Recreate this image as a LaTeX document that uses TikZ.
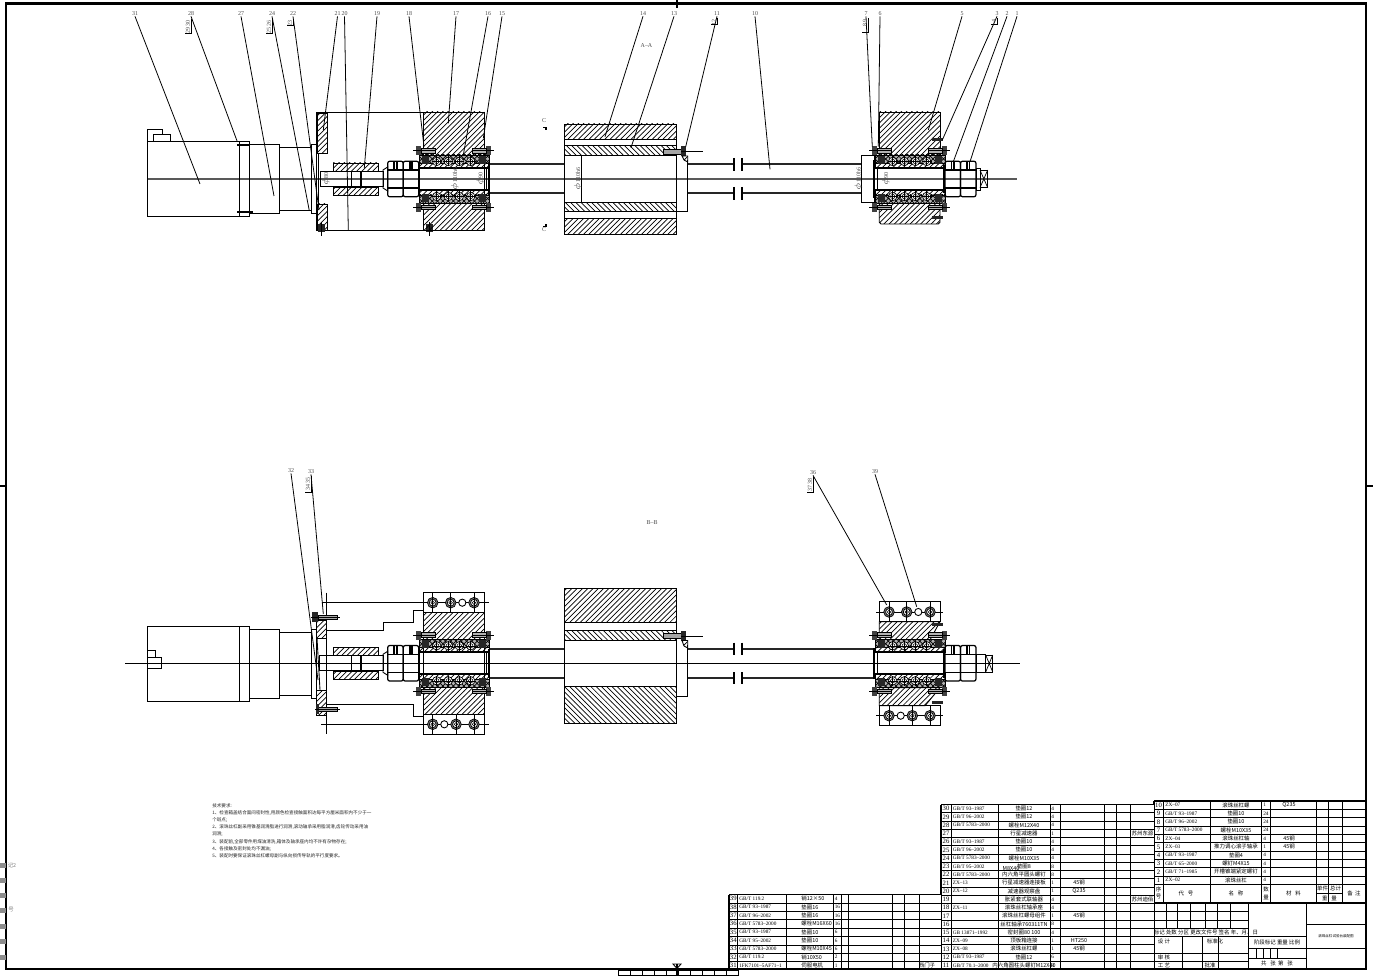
\documentclass[tikz,border=0pt]{standalone}
\usepackage{fontspec}
\usetikzlibrary{patterns}
\usetikzlibrary{positioning}
\newfontfamily\cjk{Noto Sans CJK SC}
\newfontfamily\lib{Liberation Serif}
\newcommand{\gbt}{GB/T}

\tikzset{
  part/.style = {draw,line width=0.5pt},
  hatchr/.style = {draw,line width=0.5pt,pattern=north east lines},
  hatchl/.style = {draw,line width=0.5pt,pattern=north west lines},
  hatchd/.style = {draw,line width=0.5pt,pattern=crosshatch},
  leader/.style = {line width=0.45pt},
  grid/.style = {line width=0.45pt},
  heavy/.style = {line width=1.1pt},
  screwline/.style = {line width=1.1pt,black!85},
  partno/.style = {inner sep=0pt,font=\lib\fontsize{3.4}{3.4}\selectfont,black!70},
  codetxt/.style = {inner sep=0pt,font=\lib\fontsize{3}{3}\selectfont},
  cjktxt/.style = {inner sep=0pt,font=\cjk\fontsize{3.1}{3.1}\selectfont},
  notetxt/.style = {inner sep=0pt,anchor=west,font=\cjk\fontsize{2.6}{2.6}\selectfont,black!85}
}

% bearing with its four bolts, x0 = left end, cy = axis
\newcommand{\bearingset}[2]{
  \begin{scope}[shift={(#1,#2)}]
    \foreach \s in {-1,1} {
      \draw[hatchd] (0,\s*24) rectangle (70,\s*16);
      \fill[black!30] (0,\s*24) rectangle (70,\s*16);
      \draw[hatchd] (0,\s*24) rectangle (70,\s*16);
      \draw[hatchr] (0,\s*16) rectangle (70,\s*11);
      \fill[black!85] (3,\s*23) rectangle (10,\s*15);
      \fill[black!85] (60,\s*23) rectangle (67,\s*15);
      \foreach \bx in {17.7,29.3,40.3,51.7} {
        \draw[line width=0.4pt,fill=white] (\bx,\s*17.5) circle (4.2);
        \draw[line width=0.3pt] (\bx-5,\s*17.5) -- (\bx+5,\s*17.5) (\bx,\s*12.5) -- (\bx,\s*22.5);
        \draw[line width=0.3pt] (\bx,\s*17.5) circle (2.2);
      }
      \draw[heavy] (-1,\s*11) -- (71,\s*11);
      % bolts
      \fill[black!75] (-3,\s*28.3-4.5) rectangle (2,\s*28.3+4.5);
      \fill[black!75] (67,\s*28.3-4.5) rectangle (72,\s*28.3+4.5);
      \draw[part,fill=black!30] (2,\s*28.3-2.3) rectangle (16,\s*28.3+2.3);
      \draw[part,fill=black!30] (53,\s*28.3-2.3) rectangle (67,\s*28.3+2.3);
      \draw[line width=0.4pt] (-6,\s*28.3) -- (16,\s*28.3) (53,\s*28.3) -- (75,\s*28.3);
    }
  \end{scope}
}
% two nuts side by side
\newcommand{\nutpair}[2]{
  \begin{scope}[shift={(#1,#2)}]
    \foreach \nx in {0,15.5} {
      \draw[line width=0.7pt,rounded corners=1.2pt] (\nx,-17.8) rectangle (\nx+15.5,17.8);
      \draw[line width=0.6pt] (\nx,-9) -- (\nx+15.5,-9) (\nx,9) -- (\nx+15.5,9);
      \draw[line width=1.1pt] (\nx+6.5,-17.8) -- (\nx+6.5,-9) (\nx+9,-17.8) -- (\nx+9,-9);
    }
  \end{scope}
}
% coupling and shaft stub on the motor side
\newcommand{\couplingset}[2]{
  \begin{scope}[shift={(0,#2)}]
    \draw[part] (#1,-7.5) rectangle (383,7.5);
    \draw[hatchr] (333,-16) rectangle (378,-8);
    \draw[hatchr] (333,8) rectangle (378,16);
    \draw[part] (351,-8) -- (351,8);
    \draw[heavy] (360.7,-8) -- (360.7,8);
    \draw[part] (383,-9) -- (387.7,-12) -- (387.7,12) -- (383,9) -- cycle;
  \end{scope}
}
% circles with cross lines of the clamp bolts
\newcommand{\clampbolt}[2]{
  \draw[line width=0.4pt,fill=black!55] (#1,#2) circle (5.3);
  \draw[line width=0.4pt,fill=white] (#1,#2) circle (3.4);
  \draw[line width=0.3pt] (#1,#2) circle (1.8);
  \draw[line width=0.4pt] (#1,#2-10) -- (#1,#2+10);
}
\newcommand{\labelstack}[4]{
  \node[partno,rotate=90,anchor=east] at (#1-3,#2+1) {#3};
  \draw[leader] (#1,#2) -- (#1,#2+#4) -- (#1-6,#2+#4);
}

\begin{document}
\begin{tikzpicture}[x=0.02cm,y=-0.02cm]
  \useasboundingbox (0,0) rectangle (1373,976);
  \fill[white] (0,0) rectangle (1373,976);

  % frame and centring marks
  \draw[line width=1.2pt] (6,3.5) rectangle (1366,969);
  \draw[line width=0.6pt] (677,0) -- (677,8) (0,486) -- (6,486) (1366,486) -- (1373,486) (677,964) -- (677,976);
  \draw[line width=0.5pt] (673,964) -- (681,964) -- (677,968.5) -- cycle;
  \foreach \rx in {618,630,642,654,666,678,690,702,714,726} {
    \draw[grid] (\rx,970) rectangle (\rx+11.9,975);
  }
  \foreach \sy in {865,880,895,910,926,941,957} {
    \fill[black!45] (0,\sy-2.5) rectangle (5.5,\sy+2.5);
  }
  \node[cjktxt,black!50] (sidea) at (12,865) {记2};
  \node[cjktxt,black!50] (sideb) at (11,910) {号};

  %%% upper view
  \draw[line width=0.8pt,black!65] (147,179) -- (1017,179);
  % motor
  \draw[part] (147,141) rectangle (239.3,216.7);
  \draw[part] (239.3,141) rectangle (249.3,216.7);
  \draw[part] (147,141) -- (147,129.3) -- (162.7,129.3) -- (162.7,134.3) -- (170.7,134.3) -- (170.7,141);
  \draw[part] (153.3,134.3) -- (162.7,134.3) (153.3,134.3) -- (153.3,141);
  \draw[part] (249.3,144.3) rectangle (279,213.3);
  \draw[part] (279,147) rectangle (311,210.7);
  \draw[part] (311,144.3) rectangle (316.7,213.3);
  \draw[heavy] (237,145.3) -- (250,145.3) (237,212) -- (253,212);
  % housing
  \draw[part] (316.7,112) rectangle (484,230);
  \draw[hatchr] (317.3,113) rectangle (327,153);
  \draw[hatchr] (317.3,204) rectangle (327,230);
  \fill[black!85] (318,224) rectangle (325,232);
  \fill[black!85] (426,224) rectangle (433,232);
  \draw[line width=0.4pt] (321.5,222) -- (321.5,236) (429.5,222) -- (429.5,236);
  \draw[part] (318,153) -- (318,204);
  \couplingset{320}{179}
  \nutpair{387.7}{179}
  \draw[hatchr] (423.3,112) rectangle (484,155);
  \draw[hatchr] (423.3,203) rectangle (484,230);
  \bearingset{419}{179}
  \draw[part] (419,168) -- (419,190);
  \draw[heavy] (489.3,164.3) -- (489.3,193.7);
  \draw[part] (486,168) -- (486,190);
  % lead screw
  \draw[screwline] (490,164.3) -- (564.3,164.3) (490,193) -- (564.3,193);
  \draw[screwline] (687.7,164.3) -- (734,164.3) (742,164.3) -- (861.7,164.3);
  \draw[screwline] (687.7,193) -- (734,193) (742,193) -- (861.7,193);
  \draw[heavy] (734,158) -- (734,170.7) (742,158) -- (742,170.7) (734,187) -- (734,200) (742,187) -- (742,200);
  % travelling nut
  \draw[hatchr] (564.3,124) rectangle (676.7,139.3);
  \draw[hatchl] (564.3,145.7) rectangle (676.7,155.7);
  \draw[hatchl] (564.3,202.3) rectangle (676.7,211.7);
  \draw[hatchr] (564.3,218.3) rectangle (676.7,234);
  \draw[part] (564.3,139.3) -- (564.3,145.7) (676.7,139.3) -- (676.7,145.7);
  \draw[part] (564.3,211.7) -- (564.3,218.3) (676.7,211.7) -- (676.7,218.3);
  \draw[part] (564.3,155.7) -- (564.3,202.3) (581,155.7) -- (581,202.3) (676.7,155.7) -- (676.7,211.7);
  \draw[part] (676.7,211.7) -- (687.7,211.7) -- (687.7,160);
  \draw[part,fill=black!35] (663,149) rectangle (681,154);
  \fill[black!85] (681,146) rectangle (686,156);
  \draw[line width=0.4pt] (681,151.5) -- (703,151.5);
  \draw[hatchr] (682,156) -- (687.7,156) -- (687.7,162) -- (684,160) -- cycle;
  % right bearing
  \draw[hatchr] (879.3,112) rectangle (940,155);
  \draw[hatchr,rounded corners=1pt] (879.3,203) -- (879.3,224) -- (940,224) -- (940,203) -- cycle;
  \draw[part] (861.7,155) -- (874.3,155) -- (874.3,202) -- (861.7,202) -- cycle;
  \bearingset{875}{179}
  \draw[heavy] (874.3,160) -- (874.3,198) (944,165) -- (944,193);
  \draw[part] (877,168) -- (877,190);
  \fill[black!85] (932,138.5) rectangle (943,141.5);
  \fill[black!85] (932,216.2) rectangle (943,219.2);
  \nutpair{945}{179}
  \draw[part] (976,168) rectangle (980,190);
  \draw[part] (980,170) rectangle (987.7,187.7);
  \draw[line width=0.4pt] (980,170) -- (987.7,187.7) (980,187.7) -- (987.7,170);

  % view marks and sizes
  \node[partno] (secctop) at (544,121) {C};
  \node[partno] (seccbot) at (544,230) {C};
  \draw[heavy] (543,127.5) -- (546,127.5) -- (546,130) (543,226.5) -- (546,226.5) -- (546,224);
  \node[partno] (viewa) at (646.5,45.5) {A–A};
  \foreach \dnum/\dx/\dy/\dtxt in {a/326/179/{$\phi$80},b/455/179/{$\phi$110h6},c/480.5/179/{$\phi$90},d/578/179/{$\phi$110h6},e/858.5/179/{$\phi$110h6},f/886/179/{$\phi$90}} {
    \node[partno,rotate=90] (size\dnum) at (\dx,\dy) {\dtxt};
  }

  % balloon numbers, upper view
  \foreach \num/\lx/\tx/\ty in {31/135/200/184,28/191/237.3/141.7,27/241/274/196,24/272/309.3/210.7,22/293/319/210,21/337.5/323.3/130,20/344.5/348.3/230,19/377/364.3/168,18/409/424/146.7,17/456/448.3/123.3,16/488/463.3/155,15/502/483.3/138.3,14/643/605/136.7,13/674/631/147.7,11/717/685.7/146.7,10/755/770/169.3,7/866/872.3/146.7,6/880/878.3/146.7,5/962/928.3/130,3/997/942.3/140,2/1007/953.3/161.7,1/1017/970/161.7} {
    \node[partno] (n\num) at (\lx,14) {\num};
    \coordinate (t\num) at (\tx,\ty);
    \draw[leader] (n\num.south) -- (t\num);
  }
  \labelstack{191}{19}{29 30}{14}
  \labelstack{272}{19}{25 26}{14}
  \labelstack{293}{19}{23}{6}
  \labelstack{717}{18}{12}{6}
  \labelstack{868}{18}{8 9}{14}
  \labelstack{997}{18}{4}{6}

  %%% lower view
  \draw[line width=0.45pt] (125,663.3) -- (1020,663.3);
  % motor
  \draw[part] (147,626) rectangle (239.3,701.3);
  \draw[part] (239.3,626) rectangle (249.3,701.3);
  \draw[part] (147,650.7) rectangle (155.7,657.3);
  \draw[part] (147,657.3) rectangle (161.7,668.3);
  \draw[part] (249.3,629.3) rectangle (279,698.7);
  \draw[part] (279,632.3) rectangle (311,695.7);
  \draw[part] (311,629.3) rectangle (316.7,698.7);
  % bracket and plate
  \draw[part] (326.7,592.7) -- (326.7,734.3);
  \draw[hatchr] (316.7,620) rectangle (326.7,638);
  \draw[hatchr] (316.7,690) rectangle (326.7,715);
  \draw[part] (317,638) -- (320,690);
  \draw[part] (326.7,630) -- (383.3,630) -- (383.3,622.3) -- (413.3,622.3) -- (413.3,610) -- (423.3,610);
  \draw[part] (326.7,704.3) -- (413.3,704.3) -- (413.3,716.7) -- (423.3,716.7);
  \draw[part] (423.3,592.7) rectangle (484,734.3);
  \draw[part] (321.7,602.7) -- (489,602.7) (321,724.3) -- (489,724.3);
  \draw[hatchr] (423.3,612.7) rectangle (484,640);
  \draw[hatchr] (423.3,687.7) rectangle (484,714.3);
  \foreach \cx in {432.7,450.7,474} { \clampbolt{\cx}{602.7} }
  \foreach \cx in {432.7,456,474} { \clampbolt{\cx}{724.3} }
  \draw[part,fill=white] (462.3,602.7) circle (3.6);
  \draw[part,fill=white] (444.3,724.3) circle (3.6);
  \draw[part,fill=black!35] (318,615) rectangle (337.7,619.5);
  \fill[black!85] (312,612) rectangle (318,622);
  \draw[part,fill=black!35] (318,707) rectangle (337,711.5);
  \fill[black!85] (316,704) rectangle (319,714);
  \draw[line width=0.4pt] (311,617.3) -- (340,617.3) (315,709.3) -- (340,709.3);
  \couplingset{319}{663.3}
  \nutpair{387.7}{663.3}
  \bearingset{419}{663.3}
  \draw[heavy] (489.3,649) -- (489.3,678);
  \draw[part] (419,652.3) -- (419,674.3) (486,652.3) -- (486,674.3);
  % lead screw
  \draw[screwline] (490,649.3) -- (564.3,649.3) (490,677.7) -- (564.3,677.7);
  \draw[screwline] (687.7,649.3) -- (734,649.3) (742,649.3) -- (875,649.3);
  \draw[screwline] (687.7,677.7) -- (734,677.7) (742,677.7) -- (875,677.7);
  \draw[heavy] (734,642.7) -- (734,655) (742,642.7) -- (742,655) (734,672.3) -- (734,684.3) (742,672.3) -- (742,684.3);
  % travelling nut
  \draw[hatchr] (564.3,588.3) rectangle (676.7,622.3);
  \draw[hatchl] (564.3,630.7) rectangle (676.7,640.7);
  \draw[hatchl] (564.3,686.7) rectangle (676.7,723.3);
  \draw[part] (564.3,622.3) -- (564.3,630.7) (676.7,622.3) -- (676.7,630.7);
  \draw[part] (564.3,640.7) -- (564.3,686.7) (676.7,640.7) -- (676.7,696.7);
  \draw[part] (676.7,696.7) -- (687.7,696.7) -- (687.7,645);
  \draw[part,fill=black!35] (663,633.5) rectangle (681,638.5);
  \fill[black!85] (681,630.5) rectangle (686,640.5);
  \draw[line width=0.4pt] (681,636) -- (703,636);
  \draw[hatchr] (682,640.5) -- (687.7,640.5) -- (687.7,648) -- (684,646) -- cycle;
  % right bearing and clamp
  \draw[part] (879.3,601.7) rectangle (940,621.7);
  \draw[part] (879.3,705.7) rectangle (940,725.3);
  \draw[hatchr] (879.3,621.7) -- (940,621.7) -- (930,640) -- (879.3,640) -- cycle;
  \draw[hatchr] (879.3,687.7) -- (940,687.7) -- (925,705.7) -- (879.3,705.7) -- cycle;
  \draw[line width=0.4pt] (876,612) -- (943,612) (876,715.7) -- (943,715.7);
  \foreach \cx in {889,906.7,930} { \clampbolt{\cx}{612} }
  \foreach \cx in {889,912.3,930} { \clampbolt{\cx}{715.7} }
  \draw[part,fill=white] (918.3,612) circle (3.6);
  \draw[part,fill=white] (900.7,715.7) circle (3.6);
  \bearingset{875}{663.3}
  \draw[heavy] (874,648) -- (874,679) (944,649) -- (944,678);
  \draw[part] (877,652.3) -- (877,674.3);
  \fill[black!85] (932,623) rectangle (943,626);
  \fill[black!85] (932,701) rectangle (943,704);
  \nutpair{945}{663.3}
  \draw[part] (976,654.3) rectangle (985.7,672.7);
  \draw[part] (985.7,655) rectangle (992.7,672);
  \draw[line width=0.4pt] (985.7,655) -- (992.7,672) (985.7,672) -- (992.7,655);

  \node[partno] (viewb) at (652,523) {B–B};
  \foreach \num/\lx/\ly/\tx/\ty in {32/291/471/318/680,33/311/472/323.3/614,36/813/473/886.7/605,39/875/472/916.7/606.7} {
    \node[partno] (n\num) at (\lx,\ly) {\num};
    \coordinate (t\num) at (\tx,\ty);
    \draw[leader] (n\num.south) -- (t\num);
  }
  \labelstack{311}{476}{34 35}{16}
  \labelstack{813}{477}{37 38}{15}

  %%% technical notes
  \node[notetxt] (req0) at (212,805.7) {技术要求:};
  \node[notetxt] (req1) at (212,812.6) {1、检查箱盖结合面间密封性,用颜色检查接触面积达每平方厘米面积内不少于一};
  \node[notetxt] (req2) at (212,820) {个斑点;};
  \node[notetxt] (req3) at (212,827.3) {2、滚珠丝杠副采用锥基润滑脂进行润滑,滚动轴承采用脂润滑,齿轮传动采用油};
  \node[notetxt] (req4) at (212,834) {润滑;};
  \node[notetxt] (req5) at (212,842) {3、装配前,全部零件用煤油清洗,箱体及轴承座内均不许有杂物存在;};
  \node[notetxt] (req6) at (212,849) {4、各接触及密封处均不漏油;};
  \node[notetxt] (req7) at (212,856) {5、装配时要保证滚珠丝杠螺母副与纵向损传导轨的平行度要求。};

  %%% parts lists
  % left list
  \foreach \gy in {894.5,902.9,...,970} { \draw[grid] (729,\gy) -- (941,\gy); }
  \foreach \gx in {729,737.7,786.7,833.3,841.7,848.3,892.7,904.3,919,941} { \draw[grid] (\gx,894.5) -- (\gx,969.5); }
  % middle list
  \foreach \gy in {804.5,812.75,...,970} { \draw[grid] (941,\gy) -- (1154,\gy); }
  \foreach \gx in {941,951,998.3,1050,1060,1104.3,1116.7,1130.3,1154} { \draw[grid] (\gx,804.5) -- (\gx,969.5); }
  % right list
  \foreach \gy in {801,809.35,...,885} { \draw[grid] (1154,\gy) -- (1365,\gy); }
  \foreach \gx in {1163.3,1210,1261.7,1270.7,1316.7,1328.3,1342.7} { \draw[grid] (\gx,801) -- (\gx,903); }
  \draw[heavy] (1154,801) -- (1366,801) (941,804.5) -- (1154,804.5) (729,894.5) -- (941,894.5) (729,894.5) -- (729,969) (941,804.5) -- (941,894.5) (1154,801) -- (1154,804.5);
  \draw[grid] (1316.7,893) -- (1342.7,893);

  \foreach \n/\code/\name/\qty in {39/\gbt{} 119.2/销12×50/4,38/\gbt{} 93–1987/垫圈16/16,37/\gbt{} 96–2002/垫圈16/16,36/\gbt{} 5783–2000/螺栓M16X60/16,35/\gbt{} 93–1987/垫圈10/6,34/\gbt{} 95–2002/垫圈10/6,33/\gbt{} 5783–2000/螺栓M10X45/6,32/\gbt{} 119.2/销10X50/2,31/1FK7101–5AF71–1/伺服电机/1} {
    \pgfmathsetmacro{\rowy}{898.7+(39-\n)*8.35}
    \node[codetxt,font=\lib\fontsize{3.8}{3.8}\selectfont] (no\n) at (733.3,\rowy) {\n};
    \node[codetxt,anchor=west] (co\n) at (739,\rowy) {\code};
    \node[cjktxt,anchor=west] (na\n) at (801,\rowy) {\name};
    \node[codetxt,anchor=west] (qt\n) at (834.5,\rowy) {\qty};
  }
  \node[cjktxt] (make31) at (927,965.5) {西门子};

  \foreach \n/\code/\name/\qty/\mat in {30/\gbt{} 93–1987/垫圈12/4/{},29/\gbt{} 96–2002/垫圈12/4/{},28/\gbt{} 5783–2000/螺栓M12X40/4/{},27/{}/行星减速器/1/{},26/\gbt{} 93–1987/垫圈10/4/{},25/\gbt{} 96–2002/垫圈10/4/{},24/\gbt{} 5783–2000/螺栓M10X35/4/{},23/\gbt{} 95–2002/垫圈8/8/{},22/\gbt{} 5783–2000/内六角平圆头螺钉/8/{},21/ZX–13/行星减速器连接板/1/45钢,20/ZX–12/减速器观察盘/1/Q235,19/{}/胀紧套式联轴器/4/{},18/ZX–11/滚珠丝杠轴承座/4/{},17/{}/滚珠丝杠螺母组件/1/45钢,16/{}/丝杠轴承760311TN/8/{},15/GB 13871–1992/密封圈80 100/4/{},14/ZX–09/顶板箱连接/1/HT250,13/ZX–08/滚珠丝杠螺/1/45钢,12/\gbt{} 93–1987/垫圈12/6/{},11/\gbt{} 70.1–2000/内六角圆柱头螺钉M12X40/8/{}} {
    \pgfmathsetmacro{\rowy}{808.6+(30-\n)*8.25}
    \node[codetxt,font=\lib\fontsize{3.8}{3.8}\selectfont] (no\n) at (946,\rowy) {\n};
    \node[codetxt,anchor=west] (co\n) at (952.5,\rowy) {\code};
    \node[cjktxt] (na\n) at (1024,\rowy) {\name};
    \node[codetxt,anchor=west] (qt\n) at (1051,\rowy) {\qty};
    \node[cjktxt] (ma\n) at (1079,\rowy) {\mat};
  }
  \node[cjktxt] (make27) at (1142.5,833.5) {苏州东源};
  \node[cjktxt] (make19) at (1142.5,899) {苏州迪佰};
  \node[cjktxt] (m8len) at (1011,869) {M8X40};

  \foreach \n/\code/\name/\qty/\mat in {10/ZX–07/滚珠丝杠螺/1/Q235,9/\gbt{} 93–1987/垫圈10/24/{},8/\gbt{} 96–2002/垫圈10/24/{},7/\gbt{} 5783–2000/螺栓M10X35/24/{},6/ZX–04/滚珠丝杠轴/4/45钢,5/ZX–03/推力调心滚子轴承/1/45钢,4/\gbt{} 93–1987/垫圈4/4/{},3/\gbt{} 65–2000/螺钉M4X15/4/{},2/\gbt{} 71–1985/开槽锥端紧定螺钉/4/{},1/ZX–02/滚珠丝杠/4/{}} {
    \pgfmathsetmacro{\rowy}{805.2+(10-\n)*8.33}
    \node[codetxt,font=\lib\fontsize{3.8}{3.8}\selectfont] (no\n) at (1158.5,\rowy) {\n};
    \node[codetxt,anchor=west] (co\n) at (1165,\rowy) {\code};
    \node[cjktxt] (na\n) at (1236,\rowy) {\name};
    \node[codetxt,anchor=west] (qt\n) at (1263,\rowy) {\qty};
    \node[cjktxt] (ma\n) at (1289,\rowy) {\mat};
  }
  % header of the list
  \node[cjktxt] (hno) at (1158.5,889) {序};
  \node[cjktxt] (hnob) at (1158.5,897) {号};
  \node[cjktxt] (hcode) at (1186,893.5) {代\ \ \ 号};
  \node[cjktxt] (hname) at (1236,893.5) {名\ \ \ 称};
  \node[cjktxt] (hqty) at (1266,889) {数};
  \node[cjktxt] (hqtyb) at (1266,897) {量};
  \node[cjktxt] (hmat) at (1293.5,893.5) {材\ \ \ 料};
  \node[cjktxt] (hone) at (1322.5,888.5) {单件};
  \node[cjktxt] (htot) at (1335.5,888.5) {总计};
  \node[cjktxt] (hwt) at (1329.5,898) {重\ \ \ 量};
  \node[cjktxt] (hrem) at (1354,893.5) {备\ \ 注};

  %%% title block
  \draw[heavy] (1154,903) -- (1366,903) (1366,801) -- (1366,969);
  \foreach \gy in {911.5,920,928.5} { \draw[grid] (1154,\gy) -- (1248,\gy); }
  \foreach \gx in {1166,1177.7,1190,1205.7,1217.7,1230} { \draw[grid] (\gx,903) -- (\gx,928.5); }
  \draw[grid] (1154,936.7) -- (1306.7,936.7) (1154,953) -- (1248,953) (1154,961) -- (1248,961);
  \draw[grid] (1248,903) -- (1248,969) (1306.7,903) -- (1306.7,969) (1306.7,924.5) -- (1366,924.5) (1306.7,948) -- (1366,948);
  \draw[grid] (1248,948) -- (1306.7,948) (1248,958) -- (1306.7,958);
  \foreach \gx in {1256,1263,1270,1277} { \draw[grid] (\gx,948) -- (\gx,958); }
  \draw[grid] (1182,936.7) -- (1182,969) (1202,936.7) -- (1202,969) (1218,936.7) -- (1218,969);
  \node[cjktxt] (tblock) at (1206,932.5) {标记 处数 分区 更改文件号 签名 年、月、日};
  \node[cjktxt] (tdesign) at (1164,941) {设\ 计};
  \node[cjktxt] (tstd) at (1215,941) {标准化};
  \node[cjktxt] (tcheck) at (1164,957) {审\ 核};
  \node[cjktxt] (tproc) at (1164,965) {工\ 艺};
  \node[cjktxt] (tappr) at (1210,965) {批准};
  \node[cjktxt] (tstage) at (1277,942) {阶段标记\ 重量\ 比例};
  \node[cjktxt] (tcount) at (1277,963.5) {共\ \ \ 张\ \ 第\ \ \ 张};
  \node[cjktxt,font=\cjk\fontsize{2}{2}\selectfont] (ttitle) at (1336,936) {滚珠丝杠试验台装配图};
\end{tikzpicture}
\end{document}
